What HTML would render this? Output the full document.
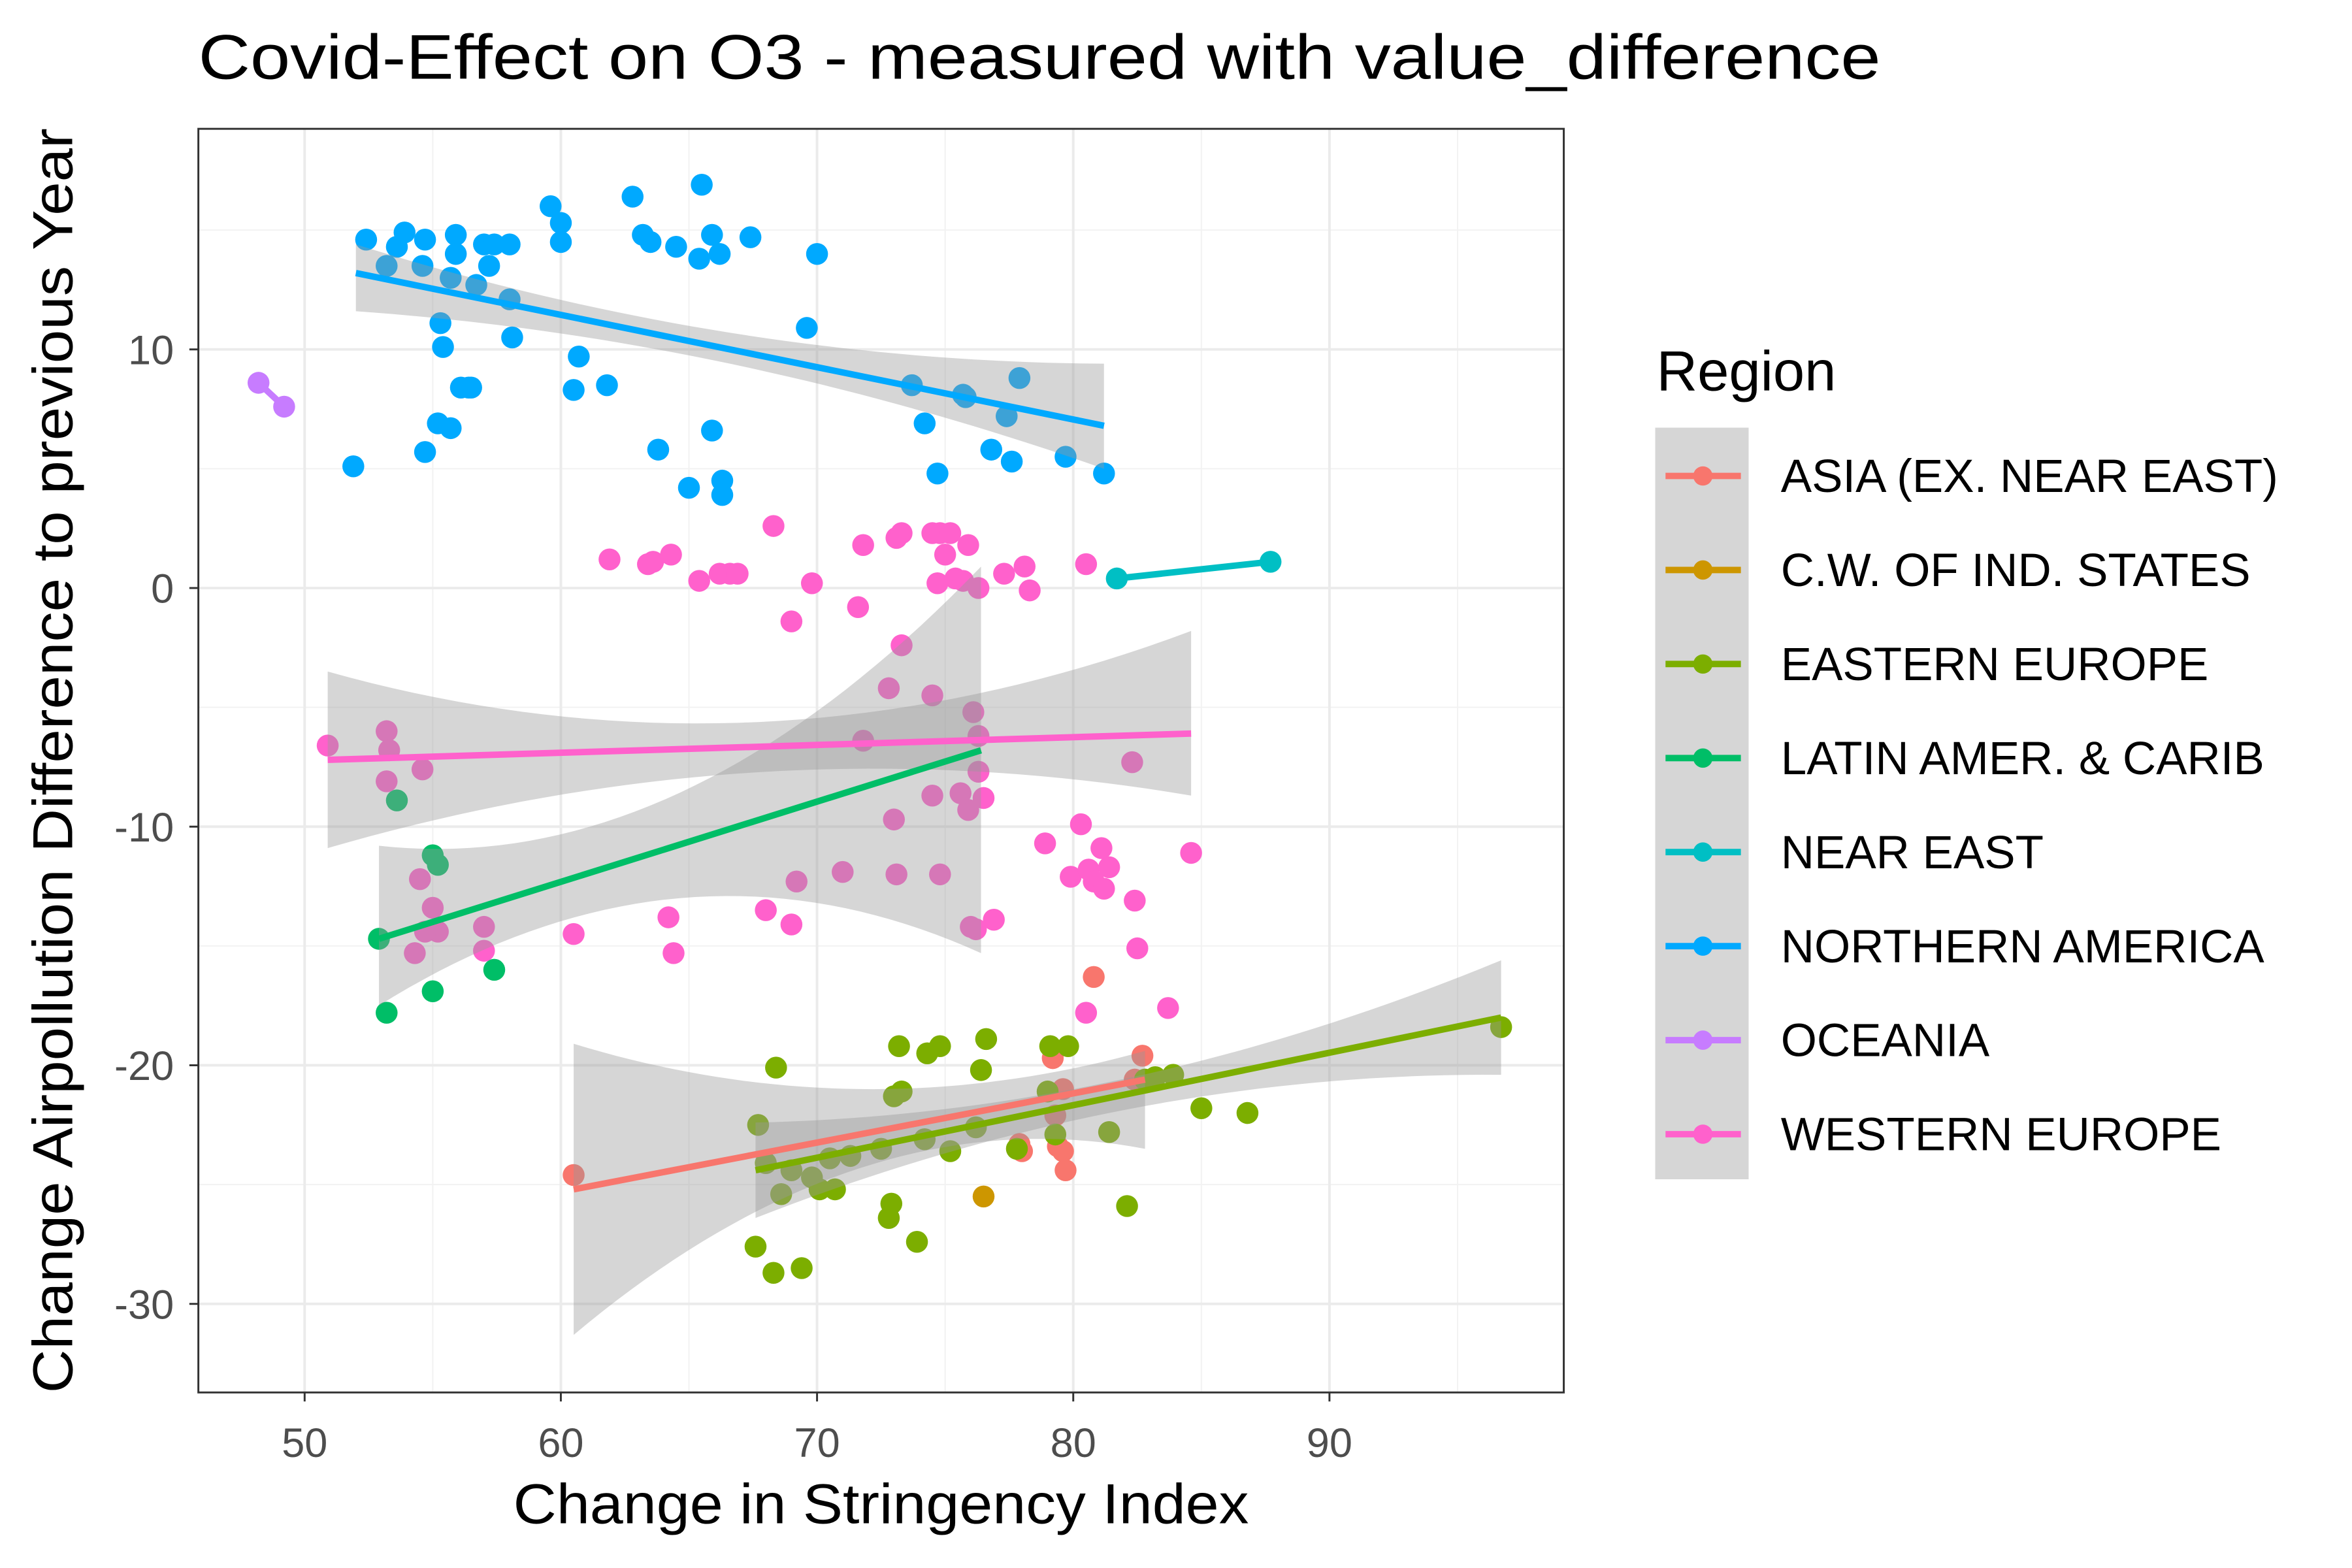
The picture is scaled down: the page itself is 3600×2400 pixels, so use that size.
<!DOCTYPE html>
<html><head><meta charset="utf-8"><style>
html,body{margin:0;padding:0;background:#fff;}
svg{display:block;font-family:"Liberation Sans",Arial,sans-serif;}
</style></head><body>
<svg id="chart" width="3600" height="2400" viewBox="0 0 3600 2400" xmlns="http://www.w3.org/2000/svg">
<rect width="3600" height="2400" fill="#fff"/>
<g transform="scale(0.9858)">
<text x="308" y="122" font-size="98" textLength="2612" lengthAdjust="spacingAndGlyphs" fill="#000">Covid-Effect on O3 - measured with value_difference</text>
<defs><clipPath id="pc"><rect x="308" y="200" width="2120" height="1962"/></clipPath></defs>
<g id="grid"></g>
<g id="marks" clip-path="url(#pc)"></g>
<rect x="308" y="200" width="2120" height="1962" fill="none" stroke="#333" stroke-width="3"/>
<g id="axes"></g>
<text x="1368" y="2365" font-size="88" text-anchor="middle" textLength="1142" lengthAdjust="spacingAndGlyphs">Change in Stringency Index</text>
<text transform="translate(112,1181) rotate(-90)" font-size="88" text-anchor="middle" textLength="1964" lengthAdjust="spacingAndGlyphs">Change Airpollution Difference to previous Year</text>
<g id="legend"></g>
</g>
</svg>
<script>
const NS="http://www.w3.org/2000/svg";
const regions=["ASIA (EX. NEAR EAST)","C.W. OF IND. STATES","EASTERN EUROPE","LATIN AMER. & CARIB","NEAR EAST","NORTHERN AMERICA","OCEANIA","WESTERN EUROPE"];
const colors=["#F8766D","#CD9600","#7CAE00","#00BE67","#00BFC4","#00A9FF","#C77CFF","#FF61CC"];
const xTicks=[50,60,70,80,90];
const yTicks=[-30,-20,-10,0,10];
const xMinor=[45,55,65,75,85,95];
const yMinor=[-25,-15,-5,5,15];
const asiaPts=[[60.5,-24.6],[77.9,-23.3],[78.0,-23.6],[79.2,-19.7],[79.4,-23.4],[79.6,-23.6],[79.6,-21.0],[79.7,-24.4],[80.8,-16.3],[82.7,-19.6],[82.4,-20.6],[79.3,-22.1]];
const cwPts=[[76.5,-25.5]];
const eastPts=[[67.7,-22.5],[67.6,-27.6],[68.0,-24.1],[68.3,-28.7],[68.4,-20.1],[68.6,-25.4],[69.0,-24.4],[69.4,-28.5],[69.8,-24.7],[70.1,-25.2],[70.5,-23.9],[70.7,-25.2],[71.3,-23.8],[72.5,-23.5],[72.8,-26.4],[72.9,-25.8],[73.2,-19.2],[73.0,-21.3],[73.3,-21.1],[73.9,-27.4],[74.2,-23.1],[74.3,-19.5],[74.8,-19.2],[75.2,-23.6],[76.2,-22.6],[76.4,-20.2],[76.6,-18.9],[77.8,-23.5],[79.0,-21.1],[79.1,-19.2],[79.3,-22.9],[79.8,-19.2],[81.4,-22.8],[82.1,-25.9],[82.8,-20.6],[83.9,-20.4],[85.0,-21.8],[86.8,-22.0],[96.7,-18.4],[83.2,-20.5]];
const latinPts=[[52.9,-14.7],[53.2,-17.8],[53.6,-8.9],[55.0,-11.2],[55.2,-11.6],[55.0,-16.9],[57.4,-16.0]];
const nearPts=[[81.7,0.4],[87.7,1.1]];
const northPts=[[52.4,14.6],[53.2,13.5],[53.6,14.3],[53.9,14.9],[54.6,13.5],[54.7,14.6],[55.2,6.9],[55.3,11.1],[55.4,10.1],[55.7,6.7],[55.9,14.8],[55.7,13.0],[55.9,14.0],[56.1,8.4],[56.4,8.4],[56.5,8.4],[56.7,12.7],[57.0,14.4],[57.2,13.5],[57.4,14.4],[58.0,14.4],[58.0,12.1],[58.1,10.5],[59.6,16.0],[60.0,15.3],[60.0,14.5],[60.7,9.7],[60.5,8.3],[61.8,8.5],[62.8,16.4],[63.2,14.8],[63.5,14.5],[63.8,5.8],[64.5,14.3],[65.0,4.2],[65.4,13.8],[65.5,16.9],[65.9,14.8],[65.9,6.6],[66.2,14.0],[66.3,4.5],[66.3,3.9],[67.4,14.7],[69.6,10.9],[70.0,14.0],[73.7,8.5],[74.2,6.9],[74.7,4.8],[75.7,8.1],[75.8,8.0],[76.8,5.8],[77.4,7.2],[77.6,5.3],[77.9,8.8],[79.7,5.5],[81.2,4.8],[51.9,5.1],[54.7,5.7]];
const oceaniaPts=[[48.2,8.6],[49.2,7.6]];
const westPts=[[61.9,1.2],[63.4,1.0],[63.6,1.1],[64.3,1.4],[65.4,0.3],[66.2,0.6],[66.6,0.6],[66.9,0.6],[68.3,2.6],[69.0,-1.4],[69.8,0.2],[71.6,-0.8],[71.8,1.8],[73.1,2.1],[73.3,2.3],[74.5,2.3],[74.7,0.2],[74.8,2.3],[75.0,1.4],[75.2,2.3],[75.4,0.4],[75.7,0.3],[75.9,1.8],[76.3,0.0],[77.3,0.6],[78.1,0.9],[78.3,-0.1],[80.5,1.0],[82.3,-7.3],[78.9,-10.7],[80.3,-9.9],[79.9,-12.1],[80.6,-11.8],[80.8,-12.3],[81.1,-10.9],[81.2,-12.6],[81.4,-11.7],[82.4,-13.1],[82.5,-15.1],[83.7,-17.6],[84.6,-11.1],[80.5,-17.8],[76.9,-13.9],[76.2,-14.3],[76.0,-14.2],[73.3,-2.4],[72.8,-4.2],[74.5,-4.5],[73.0,-9.7],[73.1,-12.0],[74.8,-12.0],[74.5,-8.7],[76.1,-5.2],[76.3,-6.2],[76.3,-7.7],[75.9,-9.3],[76.5,-8.8],[75.6,-8.6],[71.8,-6.4],[71.0,-11.9],[69.2,-12.3],[69.0,-14.1],[68.0,-13.5],[64.2,-13.8],[64.4,-15.3],[60.5,-14.5],[57.0,-15.2],[57.0,-14.2],[55.2,-14.4],[55.0,-13.4],[54.7,-14.4],[54.3,-15.3],[54.5,-12.2],[54.6,-7.6],[53.2,-8.1],[53.2,-6.0],[53.3,-6.8],[50.9,-6.6]];
const allPts=[asiaPts,cwPts,eastPts,latinPts,nearPts,northPts,oceaniaPts,westPts];
// trend lines: [region index, x0, y0, x1, y1]
const trendLines=[[0,60.5,-25.2,82.8,-20.6],[2,67.6,-24.4,96.7,-18.0],[3,52.9,-14.7,76.4,-6.8],[4,81.7,0.4,87.7,1.1],[5,52.0,13.2,81.2,6.8],[6,48.2,8.6,49.2,7.6],[7,50.9,-7.2,84.6,-6.1]];
// confidence bands: [x0, lo0, hi0, xm, lom, him, x1, lo1, hi1]
const bandAsia=[60.5,-31.3,-19.1,72.0,-24.2,-21.0,82.8,-23.5,-19.4];
const bandEast=[67.6,-26.4,-22.4,80.5,-22.2,-20.9,96.7,-20.4,-15.6];
const bandLatin=[52.9,-17.5,-10.8,64.6,-13.0,-8.6,76.4,-15.3,0.9];
const bandNorth=[52.0,11.6,14.4,66.6,9.4,10.7,81.2,5.0,9.4];
const bandWest=[50.9,-10.9,-3.5,68.0,-7.7,-5.6,84.6,-8.7,-1.8];
const bands=[bandAsia,bandEast,bandLatin,bandNorth,bandWest];

const X=v=>473+(v-50)*39.78;
const Y=v=>913-v*37.05;
function mk(tag,attrs,parent){const e=document.createElementNS(NS,tag);for(const k in attrs)e.setAttribute(k,attrs[k]);parent.appendChild(e);return e;}
const grid=document.getElementById('grid'),marks=document.getElementById('marks'),axes=document.getElementById('axes'),legend=document.getElementById('legend');
mk('rect',{x:308,y:200,width:2120,height:1962,fill:'#fff'},grid);
xMinor.forEach(v=>{if(X(v)>308&&X(v)<2428){const l=mk('line',{x1:X(v),x2:X(v),y1:200,y2:2162,stroke:'#f2f2f2','stroke-width':2},grid);

}});
yMinor.forEach(v=>{const l=mk('line',{x1:308,x2:2428,y1:Y(v),y2:Y(v),stroke:'#f2f2f2','stroke-width':2},grid);

});
xTicks.forEach(v=>{const l=mk('line',{x1:X(v),x2:X(v),y1:200,y2:2162,stroke:'#ebebeb','stroke-width':4},grid);


const t=mk('line',{x1:X(v),x2:X(v),y1:2162,y2:2176,stroke:'#333','stroke-width':3},axes);


const tx=mk('text',{x:X(v),y:2262,'font-size':64,fill:'#4d4d4d','text-anchor':'middle'},axes);tx.textContent=v;

});
yTicks.forEach(v=>{const l=mk('line',{x1:308,x2:2428,y1:Y(v),y2:Y(v),stroke:'#ebebeb','stroke-width':4},grid);


const t=mk('line',{x1:294,x2:308,y1:Y(v),y2:Y(v),stroke:'#333','stroke-width':3},axes);


const tx=mk('text',{x:270,y:Y(v)+23,'font-size':64,fill:'#4d4d4d','text-anchor':'end'},axes);tx.textContent=v;

});
allPts.forEach((pts,i)=>{pts.forEach(p=>{const c=mk('circle',{cx:X(p[0]),cy:Y(p[1]),r:17,fill:colors[i]},marks);

});});
function q(x,x0,a,xm,b,x1,c){return a*(x-xm)*(x-x1)/((x0-xm)*(x0-x1))+b*(x-x0)*(x-x1)/((xm-x0)*(xm-x1))+c*(x-x0)*(x-xm)/((x1-x0)*(x1-xm));}
bands.forEach(b=>{const up=[],dn=[];const n=40;for(let k=0;k<=n;k++){const x=b[0]+(b[6]-b[0])*k/n;
up.push(X(x).toFixed(1)+','+Y(q(x,b[0],b[2],b[3],b[5],b[6],b[8])).toFixed(1));
dn.push(X(x).toFixed(1)+','+Y(q(x,b[0],b[1],b[3],b[4],b[6],b[7])).toFixed(1));}
const p=mk('polygon',{points:up.concat(dn.reverse()).join(' '),fill:'#999999','fill-opacity':0.4},marks);

});
trendLines.forEach(t=>{const l=mk('line',{x1:X(t[1]),y1:Y(t[2]),x2:X(t[3]),y2:Y(t[4]),stroke:colors[t[0]],'stroke-width':10},marks);

});
const lt=mk('text',{x:2572,y:606,'font-size':88},legend);lt.textContent='Region';


const lb=mk('rect',{x:2570,y:664,width:145,height:1167,fill:'#d6d6d6'},legend);


regions.forEach((r,i)=>{const y=739+i*146;
const g=mk('g',{},legend);


mk('line',{x1:2586,x2:2703,y1:y,y2:y,stroke:colors[i],'stroke-width':10},g);
mk('circle',{cx:2644,cy:y,r:15,fill:colors[i]},g);
const t=mk('text',{x:2765,y:y+25,'font-size':72},g);t.textContent=r;});
</script>
</body></html>
